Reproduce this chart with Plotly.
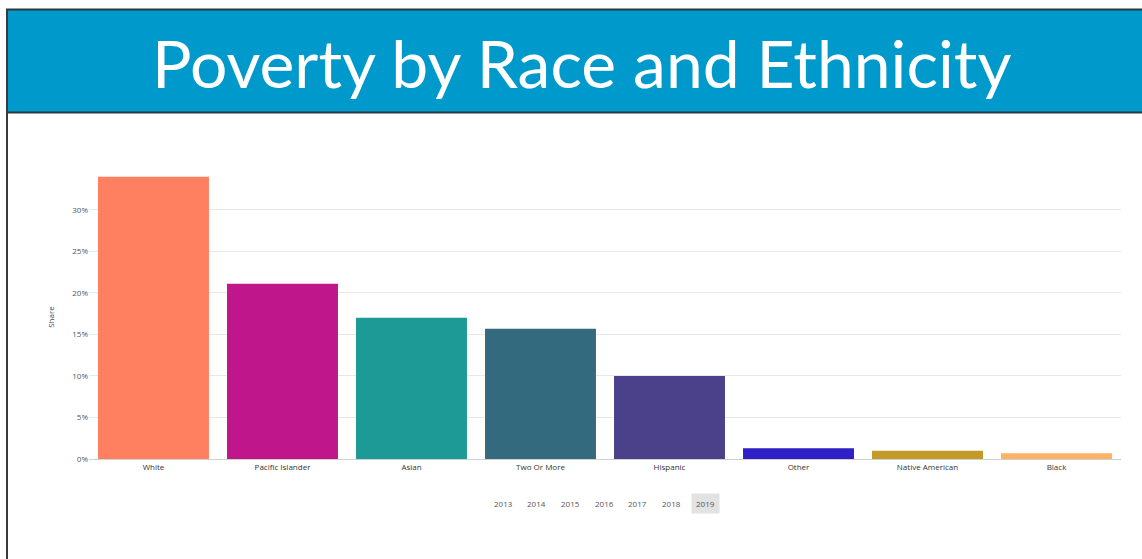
import plotly.graph_objects as go

categories = ["White", "Pacific Islander", "Asian", "Two Or More", "Hispanic",
              "Other", "Native American", "Black"]
share = [0.34, 0.211, 0.170, 0.157, 0.100, 0.013, 0.010, 0.007]
colors = ["#FF7F61", "#C0168C", "#1E9A96", "#346A7E", "#4A418A",
          "#2F1FC6", "#C39A28", "#FFB266"]
years = ["2013", "2014", "2015", "2016", "2017", "2018", "2019"]
active_year = "2019"

W, H = 1142, 559
YMAX = 0.342
L, R, B = 89, 21, 100
T = round(H - B - YMAX * 830)
PW, PH = W - L - R, H - T - B


def px(x):
    return (x - L) / PW


def py(y):
    return (H - B - y) / PH


fig = go.Figure(go.Bar(
    x=categories, y=share, marker=dict(color=colors, line=dict(width=0)),
    hovertemplate="%{x}: %{y:.1%}<extra></extra>",
))

shapes = [
    # banner
    dict(type="rect", xref="paper", yref="paper", x0=px(7), x1=px(1145),
         y0=py(112), y1=py(10), fillcolor="#0099CC", line=dict(width=0), layer="below"),
    # banner bottom dark line
    dict(type="line", xref="paper", yref="paper", x0=px(7), x1=px(1145),
         y0=py(112.5), y1=py(112.5), line=dict(color="#2b3a40", width=2)),
    # top line
    dict(type="line", xref="paper", yref="paper", x0=px(6), x1=px(1145),
         y0=py(9.5), y1=py(9.5), line=dict(color="#2b3a40", width=2)),
    # left line
    dict(type="line", xref="paper", yref="paper", x0=px(7), x1=px(7),
         y0=py(9), y1=py(562), line=dict(color="#3a3a3a", width=2)),
]

annotations = [
    dict(text="Poverty by Race and Ethnicity", xref="paper", yref="paper",
         x=px(581), y=py(62), xanchor="center", yanchor="middle", showarrow=False,
         font=dict(family="Lato", size=66, color="white")),
]

x0, step = 503, 33.7
for i, yr in enumerate(years):
    annotations.append(dict(
        text=yr, xref="paper", yref="paper", x=px(x0 + i * step), y=py(503),
        xanchor="center", yanchor="middle", showarrow=False,
        font=dict(family="Open Sans", size=8, color="#555555"),
        bgcolor="#e2e2e2" if yr == active_year else "rgba(0,0,0,0)",
        borderpad=4,
    ))

fig.update_layout(
    width=W, height=H,
    margin=dict(l=L, r=R, t=T, b=B),
    paper_bgcolor="white", plot_bgcolor="white",
    bargap=0.14,
    showlegend=False,
    shapes=shapes,
    annotations=annotations,
    font=dict(family="Open Sans", size=8, color="#444444"),
    xaxis=dict(showgrid=False, showline=True, linecolor="#d0d0d0", linewidth=1,
               ticks="", tickfont=dict(size=8, color="#333333"), fixedrange=True),
    yaxis=dict(range=[0, YMAX], tickformat=".0%", dtick=0.05,
               gridcolor="#e8e8e8", zeroline=False, showline=False,
               tickfont=dict(size=8, color="#555555"), ticks="", ticklen=4,
               title=dict(text="Share", font=dict(size=8, color="#444444"), standoff=16),
               fixedrange=True),
)

fig.write_html("out.html",
               config={"displayModeBar": False},
               post_script="document.body.style.margin='0';document.body.style.overflow='hidden';")
